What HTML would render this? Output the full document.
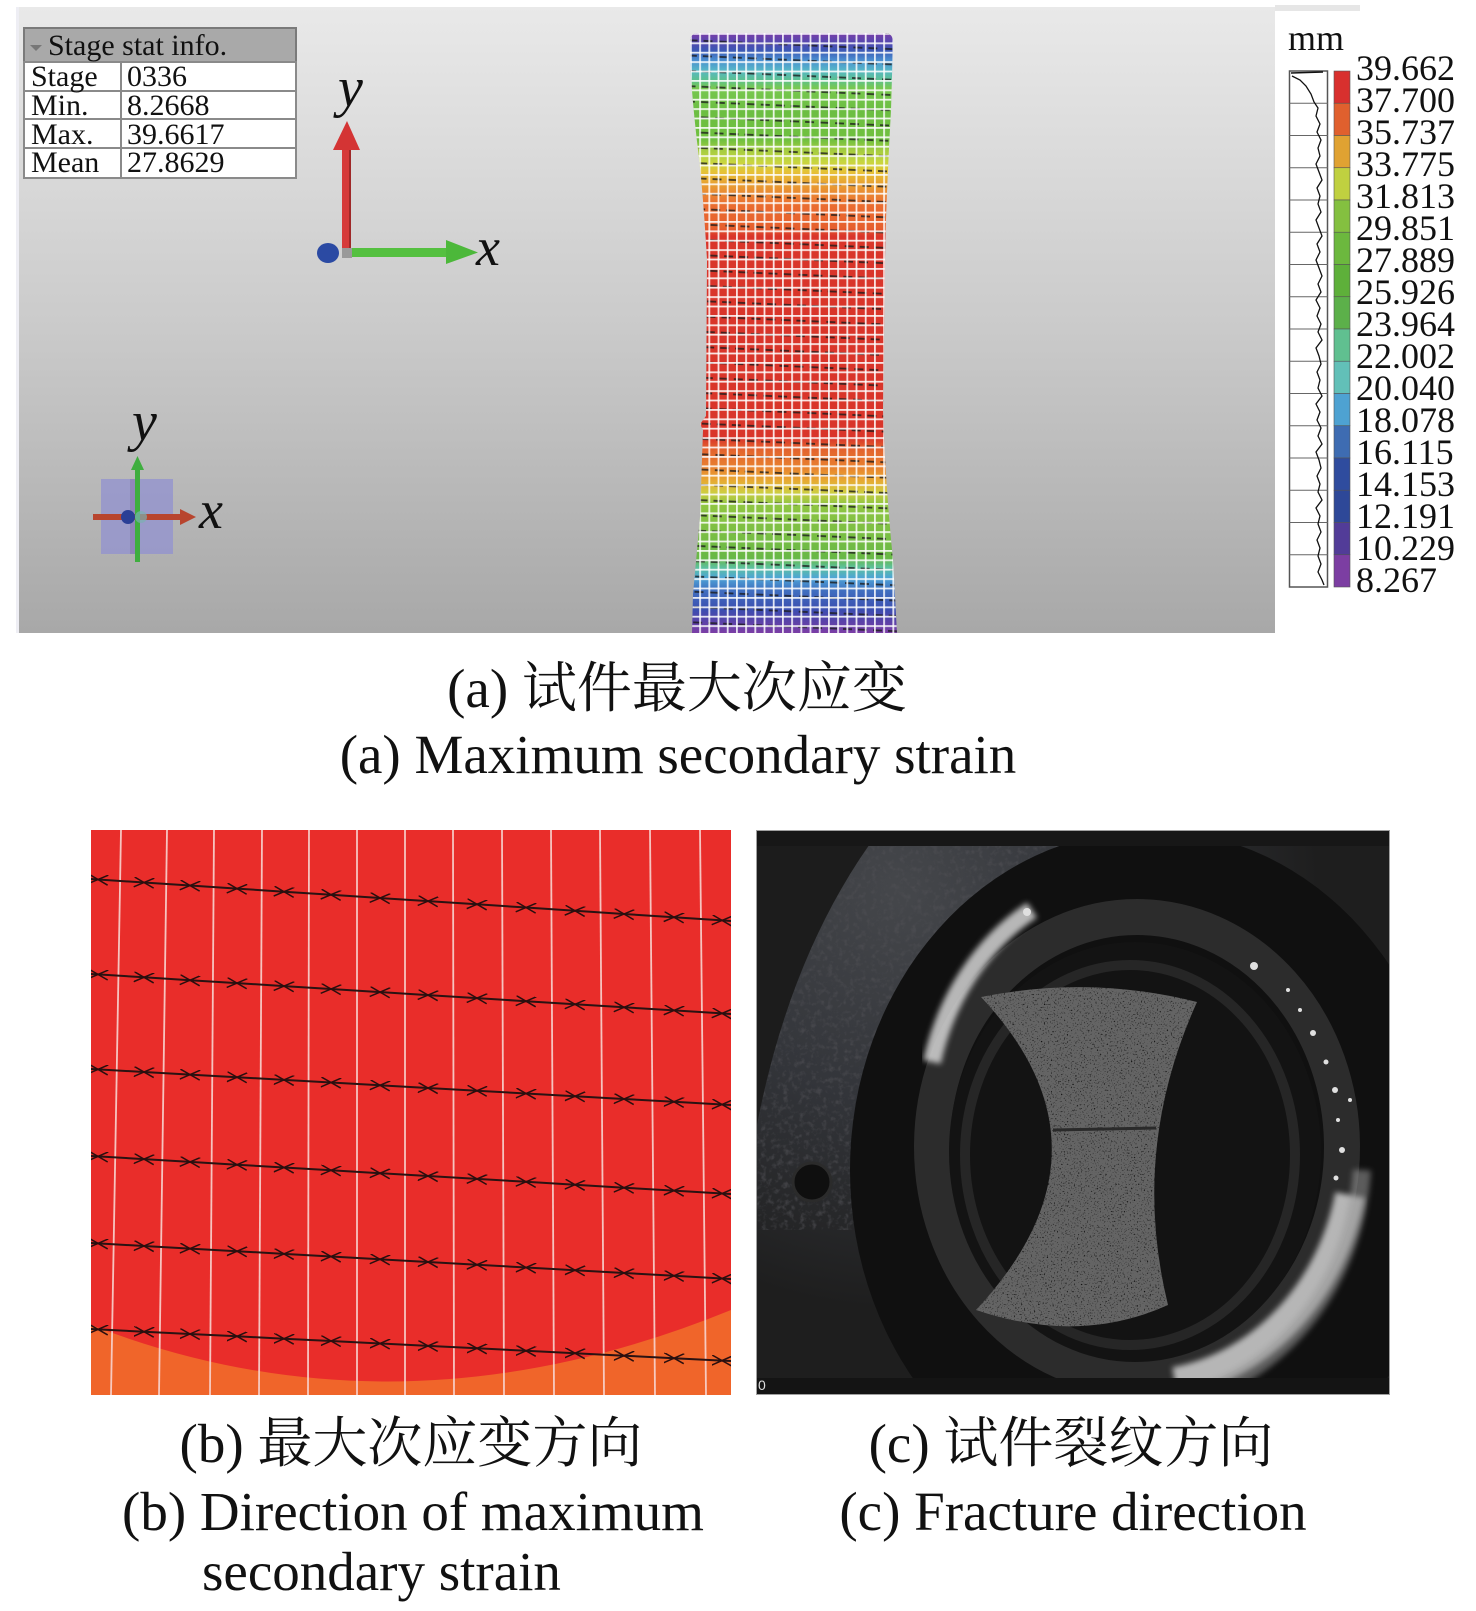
<!DOCTYPE html>
<html><head><meta charset="utf-8"><style>
html,body{margin:0;padding:0;background:#fff}
body{width:1476px;height:1611px;overflow:hidden;position:relative}
svg{position:absolute;left:0;top:0;overflow:hidden}
</style></head><body>
<svg xmlns="http://www.w3.org/2000/svg" width="1476" height="1611" viewBox="0 0 1476 1611" font-family="'Liberation Serif','Noto Serif CJK SC',serif">
<defs>
<linearGradient id="bgA" x1="0" y1="0" x2="0" y2="1">
<stop offset="0" stop-color="#e9e9e9"/><stop offset=".5" stop-color="#cbcbcb"/><stop offset="1" stop-color="#a8a8a8"/>
</linearGradient>
<linearGradient id="specG" gradientUnits="userSpaceOnUse" x1="0" y1="0" x2="0" y2="1000">
<stop offset=".033" stop-color="#7a3ea8"/><stop offset=".041" stop-color="#5a46ae"/><stop offset=".050" stop-color="#3c56b4"/>
<stop offset=".060" stop-color="#4a8ed0"/><stop offset=".070" stop-color="#56b6c8"/><stop offset=".080" stop-color="#5cc090"/>
<stop offset=".088" stop-color="#78c850"/><stop offset=".110" stop-color="#6cbe42"/><stop offset=".140" stop-color="#70c040"/>
<stop offset=".150" stop-color="#a4cc40"/><stop offset=".162" stop-color="#c8d640"/><stop offset=".172" stop-color="#e6c236"/>
<stop offset=".184" stop-color="#e8a032"/><stop offset=".198" stop-color="#ea7c32"/><stop offset=".206" stop-color="#ea6c30"/>
<stop offset=".228" stop-color="#e6602e"/><stop offset=".236" stop-color="#d9352a"/><stop offset=".438" stop-color="#d9352a"/>
<stop offset=".448" stop-color="#e2602e"/><stop offset=".467" stop-color="#e8802f"/><stop offset=".480" stop-color="#e8a832"/>
<stop offset=".492" stop-color="#d0cc40"/><stop offset=".504" stop-color="#90c642"/><stop offset=".558" stop-color="#68b846"/>
<stop offset=".568" stop-color="#5cc0a0"/><stop offset=".578" stop-color="#4ea4d6"/><stop offset=".590" stop-color="#4070c0"/>
<stop offset=".610" stop-color="#3c4eb0"/><stop offset=".622" stop-color="#5c42a8"/><stop offset=".633" stop-color="#7c3ea6"/>
</linearGradient>
<pattern id="dashes" patternUnits="userSpaceOnUse" x="690" y="38" width="15" height="15.3" patternTransform="rotate(2.5 790 330)">
<rect x="1" y="6" width="9" height="1.8" fill="#1a1a1a" fill-opacity=".8"/>
</pattern>
<pattern id="tiles" patternUnits="userSpaceOnUse" x="690" y="33" width="9.2" height="9.4">
<rect width="9.2" height="1.8" fill="#fff" fill-opacity=".85"/><rect width="1.8" height="9.4" fill="#fff" fill-opacity=".85"/>
</pattern>
<clipPath id="spec"><path d="M690,42 Q690,33 699,33 L884,33 Q893,33 893,42 L891,110 Q886,200 885,260 L883,410 Q885,480 893,560 L897,633 L692,633 L693,594 Q698,540 700,517 L703,430 L700,424 L706,416 L707,260 Q703,190 698,150 Q692,100 690,60 Z"/></clipPath>
<clipPath id="cpb"><rect x="91" y="830" width="640" height="565"/></clipPath>
<clipPath id="cpc"><rect x="756" y="830" width="634" height="565"/></clipPath>
<clipPath id="house"><path d="M880,830 Q790,950 756,1130 L756,1395 L1390,1395 L1390,830 Z"/></clipPath>
<radialGradient id="houseG" gradientUnits="userSpaceOnUse" cx="900" cy="890" r="420">
<stop offset="0" stop-color="#45474b"/><stop offset=".5" stop-color="#33353a"/><stop offset="1" stop-color="#1e1e1e"/>
</radialGradient>
<marker id="xm" markerWidth="24" markerHeight="14" refX="10" refY="5" markerUnits="userSpaceOnUse" orient="auto">
<path d="M0,0 L20,10 M0,10 L20,0" stroke="#2a0e0e" stroke-width="1.5" fill="none"/>
</marker>
<filter id="speck" x="0" y="0" width="1" height="1">
<feTurbulence type="fractalNoise" baseFrequency="0.7" numOctaves="1" seed="7" result="n"/>
<feColorMatrix in="n" type="matrix" values="0 0 0 0 0  0 0 0 0 0  0 0 0 0 0  4 0 0 0 -2.3" result="m"/>
<feComposite in="m" in2="SourceGraphic" operator="in"/>
</filter>
<filter id="grain" x="0" y="0" width="1" height="1">
<feTurbulence type="fractalNoise" baseFrequency="0.18" numOctaves="3" seed="4"/>
<feColorMatrix type="matrix" values="0 0 0 0 0.08  0 0 0 0 0.08  0 0 0 0 0.09  3 0 0 0 -1.45"/>
</filter>
<filter id="blur3"><feGaussianBlur stdDeviation="3"/></filter>
</defs>

<rect width="1476" height="1611" fill="#fff"/>

<!-- ===== Panel (a) ===== -->
<rect x="16" y="7" width="1259" height="626" fill="url(#bgA)"/>
<rect x="16" y="7" width="3" height="626" fill="#eeeef4"/>
<rect x="1275" y="5" width="85" height="6" fill="#e6e6e6"/>

<!-- stat table -->
<rect x="24" y="28" width="272" height="34" fill="#a9a9a9" stroke="#7a7a7a" stroke-width="2"/>
<rect x="24" y="62" width="272" height="116" fill="#fff" stroke="#8a8a8a" stroke-width="2"/>
<line x1="24" y1="91" x2="296" y2="91" stroke="#8a8a8a" stroke-width="2"/>
<line x1="24" y1="119" x2="296" y2="119" stroke="#8a8a8a" stroke-width="2"/>
<line x1="24" y1="148" x2="296" y2="148" stroke="#8a8a8a" stroke-width="2"/>
<line x1="121" y1="62" x2="121" y2="178" stroke="#8a8a8a" stroke-width="2"/>
<polygon points="30,45 42,45 36,51" fill="#777"/>
<g font-size="30" fill="#111">
<text x="48" y="55">Stage stat info.</text>
<text x="31" y="86">Stage</text><text x="127" y="86">0336</text>
<text x="31" y="115">Min.</text><text x="127" y="115">8.2668</text>
<text x="31" y="144">Max.</text><text x="127" y="144">39.6617</text>
<text x="31" y="172">Mean</text><text x="127" y="172">27.8629</text>
</g>

<!-- triad 1 -->
<rect x="342" y="148" width="9" height="104" fill="#d63a3a"/>
<rect x="349" y="150" width="2" height="100" fill="#7a1d1d" opacity=".6"/>
<polygon points="333,150 347,121 360,150" fill="#d43434"/>
<rect x="350" y="248" width="100" height="9" fill="#55c040"/>
<polygon points="446,240 478,252.5 446,264" fill="#4cb83a"/>
<rect x="342" y="248" width="10" height="10" fill="#9a9a9a"/>
<ellipse cx="328" cy="253" rx="11" ry="10" fill="#2b4aa3"/>
<text x="338" y="106" font-size="56" font-style="italic" fill="#111">y</text>
<text x="476" y="265" font-size="54" font-style="italic" fill="#111">x</text>

<!-- triad 2 -->
<rect x="101" y="479" width="72" height="75" fill="#9595cc" opacity=".85"/>
<rect x="130" y="479" width="7" height="75" fill="#8a78b0" opacity=".6"/>
<rect x="93" y="514" width="90" height="6" fill="#b8452e"/>
<polygon points="180,509 196,517 180,525" fill="#b8452e"/>
<rect x="135" y="468" width="5" height="94" fill="#3fae3f"/>
<polygon points="131,470 137.5,456 144,470" fill="#3fae3f"/>
<circle cx="128" cy="517" r="7" fill="#2a3f96"/>
<circle cx="141" cy="517" r="6" fill="#7ab0b0" opacity=".7"/>
<text x="132" y="440" font-size="56" font-style="italic" fill="#111">y</text>
<text x="199" y="528" font-size="54" font-style="italic" fill="#111">x</text>

<!-- specimen -->
<g clip-path="url(#spec)">
<rect x="680" y="30" width="230" height="610" fill="url(#specG)"/>
<rect x="680" y="30" width="230" height="610" fill="url(#dashes)"/>
<rect x="680" y="30" width="230" height="610" fill="url(#tiles)"/>
</g>

<!-- legend -->
<text x="1288" y="50" font-size="36" fill="#111">mm</text>
<rect x="1289.5" y="71" width="38" height="516" fill="#fff" stroke="#555" stroke-width="1.5"/>
<g stroke="#666" stroke-width="1">
<line x1="1289" y1="103.25" x2="1328" y2="103.25"/><line x1="1289" y1="135.5" x2="1328" y2="135.5"/>
<line x1="1289" y1="167.75" x2="1328" y2="167.75"/><line x1="1289" y1="200" x2="1328" y2="200"/>
<line x1="1289" y1="232.25" x2="1328" y2="232.25"/><line x1="1289" y1="264.5" x2="1328" y2="264.5"/>
<line x1="1289" y1="296.75" x2="1328" y2="296.75"/><line x1="1289" y1="329" x2="1328" y2="329"/>
<line x1="1289" y1="361.25" x2="1328" y2="361.25"/><line x1="1289" y1="393.5" x2="1328" y2="393.5"/>
<line x1="1289" y1="425.75" x2="1328" y2="425.75"/><line x1="1289" y1="458" x2="1328" y2="458"/>
<line x1="1289" y1="490.25" x2="1328" y2="490.25"/><line x1="1289" y1="522.5" x2="1328" y2="522.5"/>
<line x1="1289" y1="554.75" x2="1328" y2="554.75"/>
</g>
<path d="M1291,73 L1323,72" stroke="#111" stroke-width="1.5" fill="none"/>
<polyline fill="none" stroke="#111" stroke-width="1.3" points="1292,76 1300,80 1306,86 1311,94 1314,102 1318,108 1316,116 1320,124 1317,132 1321,140 1318,148 1320,156 1316,164 1319,172 1322,180 1317,188 1320,196 1318,204 1321,212 1316,220 1319,228 1322,236 1317,244 1320,252 1316,260 1319,268 1322,276 1318,284 1321,292 1316,300 1320,308 1317,316 1321,324 1318,332 1322,340 1316,348 1319,356 1321,364 1317,372 1320,380 1318,388 1322,396 1316,404 1320,412 1317,420 1321,428 1318,436 1322,444 1316,452 1319,460 1321,468 1317,476 1320,484 1318,492 1322,500 1316,508 1320,516 1318,524 1321,532 1317,540 1320,548 1318,556 1321,564 1318,572 1322,580 1324,585"/>
<g stroke="#555" stroke-width=".6">
<rect x="1334" y="71" width="16" height="32.25" fill="#d8302e"/>
<rect x="1334" y="103.25" width="16" height="32.25" fill="#e0602e"/>
<rect x="1334" y="135.5" width="16" height="32.25" fill="#e0a232"/>
<rect x="1334" y="167.75" width="16" height="32.25" fill="#c0d040"/>
<rect x="1334" y="200" width="16" height="32.25" fill="#84c040"/>
<rect x="1334" y="232.25" width="16" height="32.25" fill="#6cb83e"/>
<rect x="1334" y="264.5" width="16" height="32.25" fill="#5eb03a"/>
<rect x="1334" y="296.75" width="16" height="32.25" fill="#5cb04a"/>
<rect x="1334" y="329" width="16" height="32.25" fill="#60c090"/>
<rect x="1334" y="361.25" width="16" height="32.25" fill="#62c0b8"/>
<rect x="1334" y="393.5" width="16" height="32.25" fill="#4ea2d2"/>
<rect x="1334" y="425.75" width="16" height="32.25" fill="#3e6cb2"/>
<rect x="1334" y="458" width="16" height="32.25" fill="#2f4c9e"/>
<rect x="1334" y="490.25" width="16" height="32.25" fill="#2e4898"/>
<rect x="1334" y="522.5" width="16" height="32.25" fill="#523c98"/>
<rect x="1334" y="554.75" width="16" height="32.25" fill="#7c3ea2"/>
</g>
<g font-size="36" fill="#111">
<text x="1356" y="80">39.662</text><text x="1356" y="112">37.700</text><text x="1356" y="144">35.737</text>
<text x="1356" y="176">33.775</text><text x="1356" y="208">31.813</text><text x="1356" y="240">29.851</text>
<text x="1356" y="272">27.889</text><text x="1356" y="304">25.926</text><text x="1356" y="336">23.964</text>
<text x="1356" y="368">22.002</text><text x="1356" y="400">20.040</text><text x="1356" y="432">18.078</text>
<text x="1356" y="464">16.115</text><text x="1356" y="496">14.153</text><text x="1356" y="528">12.191</text>
<text x="1356" y="560">10.229</text><text x="1356" y="592">8.267</text>
</g>

<!-- captions -->
<g font-size="55" fill="#111" text-anchor="middle">
<text x="677" y="707">(a) 试件最大次应变</text>
<text x="678" y="773">(a) Maximum secondary strain</text>
<text x="411" y="1462">(b) 最大次应变方向</text>
<text x="413" y="1530">(b) Direction of maximum</text>
<text x="1071" y="1462">(c) 试件裂纹方向</text>
<text x="1073" y="1530">(c) Fracture direction</text>
</g>
<text x="202" y="1590" font-size="55" fill="#111">secondary strain</text>

<!-- ===== Panel (b) ===== -->
<g clip-path="url(#cpb)">
<rect x="91" y="830" width="640" height="565" fill="#e92d2a"/>
<path d="M91,1325 Q400,1445 731,1310 L731,1395 L91,1395 Z" fill="#f0652a"/>
<g stroke="#f8d4d0" stroke-width="1.8" opacity=".9">
<line x1="121" y1="830" x2="111" y2="1395"/><line x1="167" y1="830" x2="159" y2="1395"/>
<line x1="214" y1="830" x2="210" y2="1395"/><line x1="262" y1="830" x2="259" y2="1395"/>
<line x1="309" y1="830" x2="308" y2="1395"/><line x1="357" y1="830" x2="357" y2="1395"/>
<line x1="405" y1="830" x2="405" y2="1395"/><line x1="453" y1="830" x2="454" y2="1395"/>
<line x1="502" y1="830" x2="504" y2="1395"/><line x1="551" y1="830" x2="554" y2="1395"/>
<line x1="600" y1="830" x2="604" y2="1395"/><line x1="650" y1="830" x2="655" y2="1395"/>
<line x1="700" y1="830" x2="706" y2="1395"/>
</g>
<g fill="none" stroke="#2a1212" stroke-width="2" marker-mid="url(#xm)">
<polyline points="91,879 98,879.5 144,882.5 190,885.5 237,888.6 284,891.7 331,894.7 380,898 428,901.1 477,904.3 526,907.5 575,910.8 624,914 674,917.2 722,920.4 731,921"/>
<polyline points="91,974 98,974.4 144,977.3 190,980.2 237,983.1 284,986.1 331,989 380,992.1 428,995.1 477,998.1 526,1001.2 575,1004.3 624,1007.3 674,1010.4 722,1013.4 731,1014"/>
<polyline points="91,1069 98,1069.4 144,1072 190,1074.6 237,1077.2 284,1079.9 331,1082.5 380,1085.3 428,1088 477,1090.7 526,1093.5 575,1096.2 624,1099 674,1101.8 722,1104.5 731,1105"/>
<polyline points="91,1156 98,1156.4 144,1159.1 190,1161.9 237,1164.7 284,1167.5 331,1170.3 380,1173.2 428,1176 477,1178.9 526,1181.8 575,1184.7 624,1187.7 674,1190.6 722,1193.5 731,1194"/>
<polyline points="91,1243 98,1243.4 144,1246 190,1248.6 237,1251.2 284,1253.9 331,1256.5 380,1259.3 428,1262 477,1264.7 526,1267.5 575,1270.2 624,1273 674,1275.8 722,1278.5 731,1279"/>
<polyline points="91,1329 98,1329.4 144,1331.7 190,1334 237,1336.3 284,1338.7 331,1341 380,1343.5 428,1345.9 477,1348.3 526,1350.8 575,1353.2 624,1355.7 674,1358.2 722,1360.6 731,1361"/>
</g>
</g>

<!-- ===== Panel (c) ===== -->
<g clip-path="url(#cpc)">
<rect x="756" y="830" width="634" height="565" fill="#1c1c1c"/>
<path d="M880,830 Q790,950 756,1130 L756,1395 L1390,1395 L1390,830 Z" fill="url(#houseG)"/>
<g clip-path="url(#house)"><rect x="756" y="830" width="400" height="400" filter="url(#grain)" opacity=".6"/></g>
<ellipse cx="1150" cy="1170" rx="300" ry="340" fill="#101010"/>
<ellipse cx="1137" cy="1147" rx="205" ry="230" fill="none" stroke="#2c2c2c" stroke-width="36"/>
<path d="M932,1062 A215,245 0 0 1 1032,910" fill="none" stroke="#d5d5d5" stroke-width="18" opacity=".85" filter="url(#blur3)"/>
<path d="M1350,1195 A215,240 0 0 1 1175,1382" fill="none" stroke="#cfcfcf" stroke-width="30" opacity=".85" filter="url(#blur3)"/>
<path d="M1362,1170 A225,250 0 0 1 1205,1392" fill="none" stroke="#9a9a9a" stroke-width="18" opacity=".55" filter="url(#blur3)"/>
<g fill="#e0e0e0">
<circle cx="1313" cy="1033" r="3"/><circle cx="1326" cy="1062" r="2.5"/><circle cx="1335" cy="1090" r="3"/>
<circle cx="1338" cy="1120" r="2"/><circle cx="1342" cy="1150" r="3"/><circle cx="1336" cy="1178" r="2.5"/>
<circle cx="1300" cy="1010" r="2"/><circle cx="1254" cy="966" r="4"/><circle cx="1027" cy="912" r="4"/>
<circle cx="1350" cy="1100" r="2"/><circle cx="1288" cy="990" r="2"/>
</g>
<ellipse cx="1135" cy="1152" rx="186" ry="210" fill="#131313"/>
<ellipse cx="1130" cy="1155" rx="165" ry="190" fill="none" stroke="#262626" stroke-width="10"/>
<path d="M981,997 Q1090,975 1197,1002 Q1130,1150 1168,1305 Q1080,1345 976,1310 Q1125,1150 981,997 Z" fill="#646464"/>
<path d="M981,997 Q1090,975 1197,1002 Q1130,1150 1168,1305 Q1080,1345 976,1310 Q1125,1150 981,997 Z" fill="#000" filter="url(#speck)"/>
<line x1="1053" y1="1130" x2="1156" y2="1128" stroke="#2a2a2a" stroke-width="3"/>
<circle cx="812" cy="1182" r="19" fill="#0f0f0f" stroke="#2b2b2b" stroke-width="3"/>
<rect x="756" y="830" width="634" height="16" fill="#171717"/>
<rect x="756" y="1378" width="634" height="17" fill="#141414"/>
<text x="758" y="1390" font-family="'Liberation Sans',sans-serif" font-size="14" fill="#ddd">0</text>
</g>
<rect x="756.5" y="830.5" width="633" height="564" fill="none" stroke="#a0a0a0" stroke-width="1"/>
</svg>
</body></html>
